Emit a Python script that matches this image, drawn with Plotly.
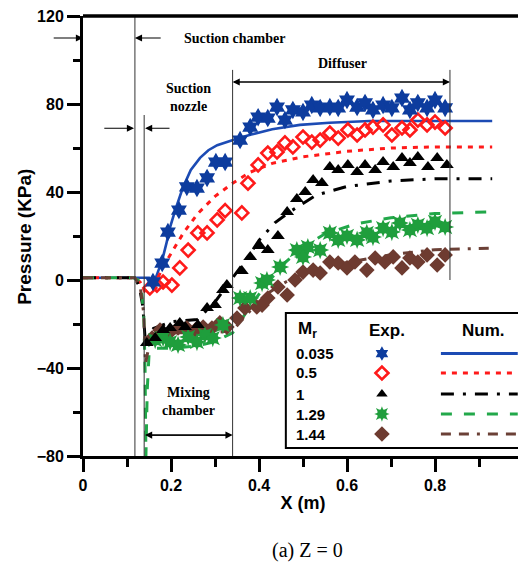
import plotly.graph_objects as go

# ---------------- data ----------------
mr_labels = ["0.035", "0.5", "1", "1.29", "1.44"]

# Experimental points
exp_x_0035 = [0.159,0.18,0.193,0.218,0.236,0.259,0.282,0.302,0.323,0.357,0.38,0.398,0.42,0.441,0.459,0.477,0.5,0.52,0.539,0.561,0.58,0.6,0.623,0.641,0.659,0.682,0.702,0.725,0.743,0.761,0.782,0.8,0.823]
exp_y_0035 = [-0.9,7.7,21.8,31.8,42.3,41.8,46.4,53.6,53.6,63.6,69.5,74,73.6,78.6,72.7,77.3,76.4,79.5,78.2,78.6,78.2,81.8,78.6,80.5,77.3,79.5,78.2,82.7,77.3,80.5,78.2,81.8,78.2]

exp_x_05 = [0.152,0.168,0.182,0.202,0.22,0.239,0.261,0.282,0.305,0.323,0.361,0.375,0.398,0.42,0.441,0.459,0.477,0.5,0.52,0.539,0.561,0.58,0.602,0.623,0.641,0.659,0.682,0.702,0.725,0.743,0.761,0.782,0.8,0.823]
exp_y_05 = [-3.6,-2.3,-0.9,-2.3,5.5,13.6,21.4,21.4,27.3,31.5,30.5,44,52.3,57.7,58.2,62.3,60.5,65,62.7,63.6,66.8,64.5,68.2,65.9,68.2,69.5,70.5,65.9,69.1,68.2,72.7,70.5,71.8,69.1]

exp_x_1 = [0.145,0.164,0.182,0.198,0.22,0.232,0.261,0.282,0.3,0.318,0.327,0.361,0.38,0.402,0.42,0.443,0.464,0.486,0.505,0.523,0.543,0.561,0.58,0.602,0.623,0.641,0.664,0.682,0.705,0.725,0.743,0.761,0.784,0.805,0.827]
exp_y_1 = [-28.6,-26.4,-22.7,-21.8,-19.5,-21.4,-20.5,-12.7,-11.4,-4.5,-2.3,4.1,10.5,15.5,13.6,20,30.9,36.8,40,45.5,44.1,51.4,50,52.3,49.1,52.3,50,53.6,51.4,55.5,53.2,55.9,51.4,55.5,52.3]

exp_x_129 = [0.164,0.182,0.198,0.216,0.239,0.259,0.277,0.295,0.318,0.357,0.38,0.407,0.418,0.448,0.486,0.5,0.511,0.539,0.561,0.58,0.6,0.623,0.645,0.659,0.682,0.702,0.72,0.743,0.761,0.782,0.8,0.823]
exp_y_129 = [-27.3,-26.4,-28.2,-29.5,-25.9,-28.2,-25,-26.4,-20.5,-8.2,-8.2,-1.4,0,5.9,13.6,10.5,15,13.6,21.4,18.2,20,18.2,21.4,19.5,23.6,21.8,25.9,22.7,25,23.6,26.4,24.1]

exp_x_144 = [0.157,0.175,0.198,0.216,0.236,0.255,0.273,0.293,0.311,0.327,0.35,0.368,0.395,0.407,0.42,0.443,0.464,0.482,0.5,0.523,0.539,0.561,0.58,0.6,0.618,0.645,0.664,0.686,0.705,0.725,0.743,0.761,0.782,0.805,0.823]
exp_y_144 = [-26.4,-22.7,-23.6,-21.8,-21.8,-22.7,-21.4,-21.8,-19.5,-21.4,-17.3,-12.7,-12.3,-11.4,-8.2,-3.2,-6.8,0,3.6,4.5,3.2,8.2,7.7,5.5,8.2,4.5,10,8.2,10.5,5.5,10,8.2,11.4,6.8,11.4]

# Numerical curves
num_x_0035 = [0,0.15,0.16,0.172,0.18,0.19,0.198,0.21,0.227,0.245,0.266,0.285,0.305,0.341,0.38,0.43,0.493,0.56,0.652,0.93]
num_y_0035 = [1,1,-2,5,9,17,24,32,42,50,55.5,59,61.3,63.6,66,68.5,70.5,71.5,72.3,72.3]

num_x_05 = [0,0.118,0.13,0.14,0.155,0.17,0.185,0.2,0.227,0.26,0.3,0.34,0.38,0.43,0.5,0.6,0.7,0.8,0.93]
num_y_05 = [1,1,-1,-5,-3,1,7,12,21,30,38,44,49,53,56,58.5,60,60.5,60.5]

num_x_1 = [0,0.118,0.128,0.136,0.142,0.148,0.16,0.2,0.26,0.3,0.34,0.37,0.4,0.436,0.47,0.53,0.6,0.7,0.8,0.93]
num_y_1 = [1,1,-3,-12,-29,-27,-22,-19,-18,-10,1,9,18,26,31,38.6,42.5,45,46,46]

num_x_129 = [0,0.115,0.125,0.133,0.138,0.141,0.143,0.146,0.15,0.16,0.2,0.26,0.3,0.34,0.38,0.42,0.46,0.5,0.55,0.62,0.7,0.8,0.93]
num_y_129 = [1,1,0,-5,-15,-40,-80,-50,-34,-31,-31,-30,-28,-24,-12,-1,8,15,21,25.5,28.3,30.2,31]

num_x_144 = [0,0.118,0.13,0.138,0.142,0.15,0.16,0.2,0.3,0.34,0.38,0.42,0.46,0.5,0.6,0.7,0.8,0.93]
num_y_144 = [1,1,-3,-15,-38,-30,-26,-24,-24,-23,-14,-6,-1,3,8,11.5,13.8,14.5]

# Region boundaries (m)
x_suction_chamber_end = 0.118
x_nozzle_end = 0.139
x_mixing_end = 0.34
x_diffuser_end = 0.834

# ---------------- styles ----------------
BLUE_L, BLUE_M = "#1c4bb4", "#0d3c9e"
RED = "#ff1a1a"
BLACK = "#000000"
GREEN_M, GREEN_L = "#1f9e3c", "#22a84a"
BROWN_M, BROWN_L = "#6e3b30", "#6b4036"

DASH_RED = "5px,6px"
DASH_BLACK = "13px,9px,3px,9px"
DASH_GREEN = "11px,12px"
DASH_BROWN = "10px,8px,10px,8px,3px,8px"

fig = go.Figure()

# numerical lines
fig.add_trace(go.Scatter(x=num_x_0035, y=num_y_0035, mode="lines", line=dict(color=BLUE_L, width=2.6), showlegend=False))
fig.add_trace(go.Scatter(x=num_x_05, y=num_y_05, mode="lines", line=dict(color=RED, width=3, dash=DASH_RED), showlegend=False))
fig.add_trace(go.Scatter(x=num_x_1, y=num_y_1, mode="lines", line=dict(color=BLACK, width=3, dash=DASH_BLACK), showlegend=False))
fig.add_trace(go.Scatter(x=num_x_129, y=num_y_129, mode="lines", line=dict(color=GREEN_L, width=3, dash=DASH_GREEN), showlegend=False))
fig.add_trace(go.Scatter(x=num_x_144, y=num_y_144, mode="lines", line=dict(color=BROWN_L, width=3, dash=DASH_BROWN), showlegend=False))

# experimental markers
def green_star(x, y, size, xa="x", ya="y"):
    for sym in ("star-square", "star-diamond"):
        fig.add_trace(go.Scatter(x=x, y=y, mode="markers", xaxis=xa, yaxis=ya,
                                 marker=dict(symbol=sym, size=size, color=GREEN_M, line=dict(width=0)),
                                 showlegend=False))

fig.add_trace(go.Scatter(x=exp_x_144, y=exp_y_144, mode="markers",
                         marker=dict(symbol="diamond", size=12, color=BROWN_M, line=dict(width=0)), showlegend=False))
green_star(exp_x_129, exp_y_129, 13)
fig.add_trace(go.Scatter(x=exp_x_1, y=exp_y_1, mode="markers",
                         marker=dict(symbol="triangle-up", size=12, color=BLACK, line=dict(width=0)), showlegend=False))
fig.add_trace(go.Scatter(x=exp_x_05, y=exp_y_05, mode="markers",
                         marker=dict(symbol="diamond-open", size=10, color=RED, line=dict(width=2.6, color=RED)), showlegend=False))
fig.add_trace(go.Scatter(x=exp_x_0035, y=exp_y_0035, mode="markers",
                         marker=dict(symbol="hexagram", size=14, color=BLUE_M, line=dict(width=0)), showlegend=False))

# ---------------- custom legend (own hidden axes) ----------------
leg_rows = [0.70, 0.556, 0.40, 0.252, 0.104]
leg_marker_x = 0.409
leg_line_x = [0.66, 0.987]
line_styles = [(BLUE_L, "solid"), (RED, DASH_RED), (BLACK, DASH_BLACK), (GREEN_L, DASH_GREEN), (BROWN_L, DASH_BROWN)]
for (c, d), ry in zip(line_styles, leg_rows):
    fig.add_trace(go.Scatter(x=leg_line_x, y=[ry, ry], mode="lines", xaxis="x2", yaxis="y2",
                             line=dict(color=c, width=3, dash=d), showlegend=False))
fig.add_trace(go.Scatter(x=[leg_marker_x], y=[leg_rows[0]], mode="markers", xaxis="x2", yaxis="y2",
                         marker=dict(symbol="hexagram", size=11, color=BLUE_M), showlegend=False))
fig.add_trace(go.Scatter(x=[leg_marker_x], y=[leg_rows[1]], mode="markers", xaxis="x2", yaxis="y2",
                         marker=dict(symbol="diamond-open", size=10, color=RED, line=dict(width=2.6, color=RED)), showlegend=False))
fig.add_trace(go.Scatter(x=[leg_marker_x], y=[leg_rows[2]], mode="markers", xaxis="x2", yaxis="y2",
                         marker=dict(symbol="triangle-up", size=10, color=BLACK), showlegend=False))
green_star([leg_marker_x], [leg_rows[3]], 11, "x2", "y2")
fig.add_trace(go.Scatter(x=[leg_marker_x], y=[leg_rows[4]], mode="markers", xaxis="x2", yaxis="y2",
                         marker=dict(symbol="diamond", size=12, color=BROWN_M), showlegend=False))

annotations = []
sans = dict(family="Liberation Sans, Arial", size=15, color="black")
for lab, ry in zip(mr_labels, leg_rows):
    annotations.append(dict(x=0.034, y=ry, xref="x2", yref="y2", text="<b>%s</b>" % lab, showarrow=False,
                            xanchor="left", yanchor="middle", font=sans))
hdr = dict(family="Liberation Sans, Arial", size=17, color="black")
annotations.append(dict(x=0.045, y=0.874, xref="x2", yref="y2", text="<b>M<sub>r</sub></b>", showarrow=False,
                        xanchor="left", yanchor="middle", font=hdr))
annotations.append(dict(x=0.43, y=0.874, xref="x2", yref="y2", text="<b>Exp.</b>", showarrow=False,
                        xanchor="center", yanchor="middle", font=hdr))
annotations.append(dict(x=0.84, y=0.874, xref="x2", yref="y2", text="<b>Num.</b>", showarrow=False,
                        xanchor="center", yanchor="middle", font=hdr))

# ---------------- region annotations ----------------
serif = dict(family="Liberation Serif, Times New Roman", size=14, color="black")
def arrow(x_head, x_tail, y):
    annotations.append(dict(x=x_head, y=y, ax=x_tail, ay=y, xref="x", yref="y", axref="x", ayref="y",
                            text="", showarrow=True, arrowhead=2, arrowsize=1.3, arrowwidth=1.1, arrowcolor="black"))

arrow(0.0, -0.07, 110)
arrow(x_suction_chamber_end, 0.18, 110)
arrow(x_suction_chamber_end - 0.002, 0.045, 69)
arrow(x_nozzle_end + 0.002, 0.20, 69)
arrow(x_diffuser_end, x_mixing_end, 90)
arrow(x_mixing_end, x_diffuser_end, 90)
arrow(x_mixing_end, x_nozzle_end + 0.002, -70.5)
arrow(x_nozzle_end + 0.002, x_mixing_end, -70.5)

annotations.append(dict(x=0.345, y=110, xref="x", yref="y", text="<b>Suction chamber</b>", showarrow=False, font=serif))
annotations.append(dict(x=0.239, y=83, xref="x", yref="y", text="<b>Suction<br>nozzle</b>", showarrow=False, font=serif))
annotations.append(dict(x=0.59, y=98.6, xref="x", yref="y", text="<b>Diffuser</b>", showarrow=False, font=serif))
annotations.append(dict(x=0.239, y=-55, xref="x", yref="y", text="<b>Mixing<br>chamber</b>", showarrow=False, font=serif))

# y-axis title
annotations.append(dict(x=-0.132, y=0.498, xref="paper", yref="paper", text="<b>Pressure (KPa)</b>", textangle=-90,
                        showarrow=False, xanchor="center", yanchor="middle",
                        font=dict(family="Liberation Sans, Arial", size=19, color="black")))

# caption
annotations.append(dict(x=0.51, y=-0.214, xref="paper", yref="paper", yanchor="middle", text="(a) Z = 0",
                        showarrow=False, font=dict(family="Liberation Serif, Times New Roman", size=20, color="black")))

# ---------------- shapes ----------------
shapes = []
def vline(x, y0, y1):
    shapes.append(dict(type="line", xref="x", yref="y", x0=x, x1=x, y0=y0, y1=y1, line=dict(color="#333333", width=1)))
vline(x_suction_chamber_end, -80, 120)
vline(x_nozzle_end, -80, 75)
vline(x_mixing_end, -80, 95.5)
vline(x_diffuser_end, 0, 95.5)
# top and right borders
shapes.append(dict(type="line", xref="paper", yref="paper", x0=0, x1=1, y0=1, y1=1, line=dict(color="black", width=3.5)))
shapes.append(dict(type="line", xref="paper", yref="paper", x0=1, x1=1, y0=0, y1=1, line=dict(color="black", width=1.5)))
# legend box
shapes.append(dict(type="rect", xref="paper", yref="paper", x0=0.461, x1=0.995, y0=0.018, y1=0.325,
                   line=dict(color="black", width=2), layer="above"))

tick_font = dict(family="Liberation Sans, Arial", size=16, color="black", weight="bold")

# the page body has an 8px default margin, so the plot area is offset to compensate
fig.update_layout(
    width=526, height=567,
    margin=dict(l=75, r=11, t=8, b=119, autoexpand=False),
    paper_bgcolor="white", plot_bgcolor="white",
    showlegend=False,
    annotations=annotations, shapes=shapes,
    xaxis=dict(range=[0, 1], tickvals=[0, 0.2, 0.4, 0.6, 0.8, 1], ticktext=["0", "0.2", "0.4", "0.6", "0.8", "1"],
               automargin=False, ticklabeloverflow="allow",
               showgrid=False, zeroline=False, showline=True, linecolor="black", linewidth=3,
               ticks="outside", ticklen=13, tickwidth=3, tickcolor="black",
               minor=dict(dtick=0.1, ticks="outside", ticklen=8, tickwidth=3, tickcolor="black"),
               tickfont=tick_font,
               title=dict(text="<b>X (m)</b>", font=dict(family="Liberation Sans, Arial", size=18, color="black"), standoff=4)),
    yaxis=dict(range=[-80, 120], tickvals=[-80, -40, 0, 40, 80, 120],
               automargin=False, ticklabeloverflow="allow",
               showgrid=False, zeroline=False, showline=True, linecolor="black", linewidth=3,
               ticks="outside", ticklen=13, tickwidth=3, tickcolor="black",
               minor=dict(dtick=20, ticks="outside", ticklen=7, tickwidth=3, tickcolor="black"),
               tickfont=tick_font),
    xaxis2=dict(domain=[0.461, 0.995], range=[0, 1], visible=False, anchor="y2", fixedrange=True),
    yaxis2=dict(domain=[0.018, 0.325], range=[0, 1], visible=False, anchor="x2", fixedrange=True),
)

fig.write_html("out.html")
